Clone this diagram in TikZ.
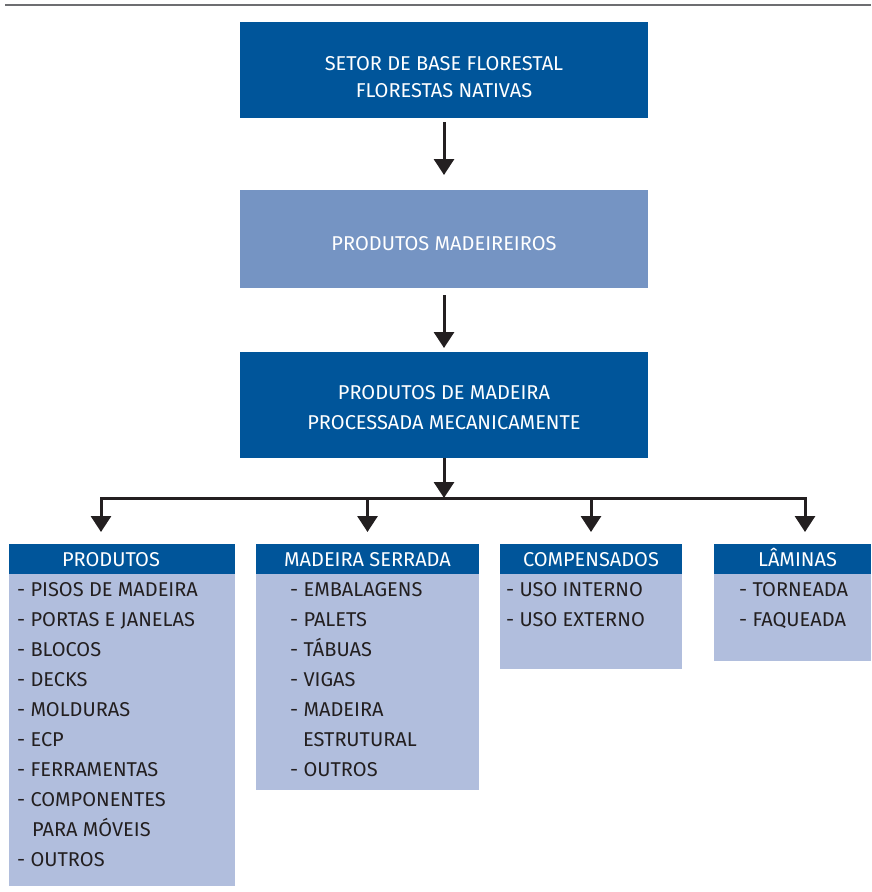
\documentclass[tikz,border=0pt]{standalone}
\usepackage{fontspec}
\setmainfont{Fira Sans}
\usetikzlibrary{
	arrows.meta,
	positioning
}
\definecolor{boxblue}{HTML}{00559A}
\definecolor{midblue}{HTML}{7594C3}
\definecolor{paleblue}{HTML}{B1BEDD}
\definecolor{rulegray}{HTML}{6D6E71}
\definecolor{inkgray}{HTML}{231F20}
\newcommand{\toppad}[1]{\rule{0pt}{#1}}

\begin{document}
\begin{tikzpicture}[
			x=1pt, y=-1pt,
			node distance = 0pt,
			MainBox/.style={fill=boxblue, text=white, minimum width=408pt, minimum height=96pt, inner sep=0pt, outer sep=0pt, align=center, font=\fontsize{20}{27}\selectfont},
			HeadBox/.style={fill=boxblue, text=white, minimum height=30pt, inner sep=0pt, outer sep=0pt, text height=14pt, text depth=0pt, font=\fontsize{20}{22}\selectfont},
			BodyBox/.style={fill=paleblue, inner sep=0pt, outer sep=0pt},
			ListText/.style={anchor=north west, align=left, inner sep=0pt, text=inkgray, font=\fontsize{20}{30}\selectfont},
			FlowArrow/.style={draw=inkgray, line width=3pt, -{Triangle[width=20pt, length=16pt]}}]
			\useasboundingbox (0,0) rectangle (871,892);
			\draw[rulegray, line width=2pt] (5,5) -- (871,5);
			\node [MainBox] (setor) at (444,70) {\toppad{28pt}SETOR DE BASE FLORESTAL\\FLORESTAS NATIVAS};
			\node [MainBox, fill=midblue, minimum height=98pt, below=72pt of setor] (madeireiros) {\toppad{24pt}PRODUTOS MADEIREIROS};
			\node [MainBox, minimum height=106pt, below=64pt of madeireiros, font=\fontsize{20}{30}\selectfont] (mecanica) {\toppad{20pt}PRODUTOS DE MADEIRA\\PROCESSADA MECANICAMENTE};
			% categorias
			\node [HeadBox, minimum width=226pt] (hdProdutos) at (122,559) {\hspace*{-22pt}PRODUTOS};
			\node [HeadBox, minimum width=223pt] (hdSerrada) at (367.5,559) {MADEIRA SERRADA};
			\node [HeadBox, minimum width=182pt] (hdCompensados) at (591,559) {COMPENSADOS};
			\node [HeadBox, minimum width=157pt] (hdLaminas) at (792.5,559) {\hspace*{10pt}LÂMINAS};
			\node [BodyBox, minimum width=226pt, minimum height=312pt, below=of hdProdutos] (bdProdutos) {};
			\node [BodyBox, minimum width=223pt, minimum height=216pt, below=of hdSerrada] (bdSerrada) {};
			\node [BodyBox, minimum width=182pt, minimum height=95pt, below=of hdCompensados] (bdCompensados) {};
			\node [BodyBox, minimum width=157pt, minimum height=87pt, below=of hdLaminas] (bdLaminas) {};
			\node [ListText] (lsProdutos) at ([xshift=8pt, yshift=-8pt]bdProdutos.north west)
				{- PISOS DE MADEIRA\\- PORTAS E JANELAS\\- BLOCOS\\- DECKS\\- MOLDURAS\\- ECP\\- FERRAMENTAS\\- COMPONENTES\\\hspace*{15pt}PARA MÓVEIS\\- OUTROS};
			\node [ListText] (lsSerrada) at ([xshift=34pt, yshift=-8pt]bdSerrada.north west)
				{- EMBALAGENS\\- PALETS\\- TÁBUAS\\- VIGAS\\- MADEIRA\\\hspace*{13pt}ESTRUTURAL\\- OUTROS};
			\node [ListText] (lsCompensados) at ([xshift=6pt, yshift=-8pt]bdCompensados.north west)
				{- USO INTERNO\\- USO EXTERNO};
			\node [ListText] (lsLaminas) at ([xshift=25pt, yshift=-8pt]bdLaminas.north west)
				{- TORNEADA\\- FAQUEADA};
			% setas
			\draw [FlowArrow, shorten <=4pt, shorten >=15pt] (setor) -- (madeireiros);
			\draw [FlowArrow, shorten <=7pt, shorten >=4pt] (madeireiros) -- (mecanica);
			\coordinate (junction) at (444,498);
			\draw [FlowArrow] (mecanica) -- (junction);
			\draw [draw=inkgray, line width=3pt, line cap=rect] (101,498) -- (805,498);
			\foreach \dropx/\hd in {101/hdProdutos, 367.5/hdSerrada, 591/hdCompensados, 805/hdLaminas}
				\draw [FlowArrow, shorten >=12pt] (\dropx,498) -- (\dropx,0 |- \hd.north);
		\end{tikzpicture}
\end{document}
